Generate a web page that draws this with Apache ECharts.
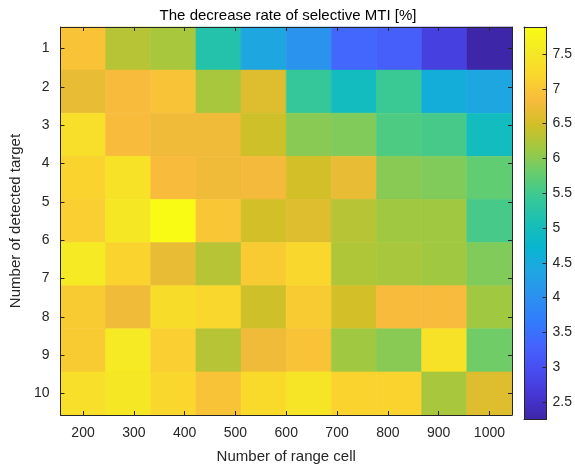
<!DOCTYPE html>
<html>
<head>
<meta charset="utf-8">
<script src="https://cdn.jsdelivr.net/npm/echarts@6/dist/echarts.min.js"></script>
<style>
  html, body { margin: 0; padding: 0; background: #fff; }
  #main { width: 575px; height: 469px; }
</style>
</head>
<body>
<div id="main"></div>
<script>
// image extent (imagesc x / y data limits)
const xRange = [200, 1000]
const yRange = [1, 10]
const xTicks = [200, 300, 400, 500, 600, 700, 800, 900, 1000]
const yTicks = [1, 2, 3, 4, 5, 6, 7, 8, 9, 10]
const cbarTicks = [2.5, 3, 3.5, 4, 4.5, 5, 5.5, 6, 6.5, 7, 7.5]
const cLim = [2.2557, 7.888]

// decrease rate, 9 rows (top to bottom) x 10 columns (left to right)
const row1 = [6.95, 6.30, 6.20, 5.20, 4.40, 4.05, 3.35, 3.25, 2.75, 2.2557]
const row2 = [6.70, 6.85, 6.95, 6.20, 6.60, 5.40, 4.95, 5.45, 4.55, 4.40]
const row3 = [7.35, 6.85, 6.75, 6.75, 6.45, 6.00, 5.95, 5.60, 5.55, 4.95]
const row4 = [7.15, 7.40, 6.85, 6.75, 6.80, 6.50, 6.70, 6.00, 5.95, 5.75]
const row5 = [7.10, 7.50, 7.888, 7.00, 6.50, 6.60, 6.30, 6.15, 6.15, 5.55]
const row6 = [7.55, 7.15, 6.70, 6.30, 7.05, 7.20, 6.25, 6.20, 6.15, 5.95]
const row7 = [7.05, 6.75, 7.30, 7.20, 6.45, 7.05, 6.50, 6.85, 6.85, 6.15]
const row8 = [7.05, 7.55, 7.10, 6.30, 6.75, 6.95, 6.15, 6.00, 7.40, 5.85]
const row9 = [7.35, 7.50, 7.20, 6.95, 7.25, 7.45, 7.15, 7.15, 6.20, 6.60]
const rows = [row1, row2, row3, row4, row5, row6, row7, row8, row9]

// parula colormap
const parula = [
  '#3e26a8', '#4537d5', '#484df0', '#4563fd', '#327cfc', '#2b91ef',
  '#20a5e3', '#08b5d0', '#19bfb6', '#37c897', '#64cd6f', '#9dc943',
  '#d1bf27', '#f8ba3d', '#fad62d', '#f5e924', '#f9fb15'
]

const nCols = rows[0].length
const nRows = rows.length
const dx = (xRange[1] - xRange[0]) / (nCols - 1)
const dy = (yRange[1] - yRange[0]) / (nRows - 1)

const cells = []
rows.forEach((r, i) => {
  r.forEach((v, j) => {
    cells.push([xRange[0] + j * dx, yRange[0] + i * dy, v])
  })
})

const textColor = '#262626'
const lineColor = '#262626'
const fontFamily = 'Liberation Sans, Arial, sans-serif'

// plain box line + inward ticks (MATLAB style), drawn above the image
const boxAxis = (extra, ticks) => Object.assign({
  z: 10,
  axisLine: { show: true, onZero: false, lineStyle: { color: lineColor, width: 1 } },
  splitLine: { show: false },
  axisTick: ticks
    ? { show: true, inside: true, length: 4, customValues: ticks, lineStyle: { color: lineColor } }
    : { show: false },
  axisLabel: { show: false }
}, extra)

const tickLabel = (ticks, margin) => ({
  show: true, customValues: ticks, color: textColor, fontSize: 14, margin, fontFamily,
  formatter: (v) => String(v)
})

const chart = echarts.init(document.getElementById('main'))

chart.setOption({
  animation: false,
  backgroundColor: '#fff',
  title: {
    text: 'The decrease rate of selective MTI [%]',
    left: 283, top: 3, textAlign: 'center',
    textStyle: { fontSize: 15, fontWeight: 'normal', color: '#000', fontFamily }
  },
  grid: [
    { left: 55, top: 27, width: 457, height: 392 },
    { left: 524, top: 27, width: 25, height: 392 }
  ],
  xAxis: [
    boxAxis({
      type: 'value', gridIndex: 0, position: 'bottom',
      min: xRange[0] - dx / 2, max: xRange[1] + dx / 2,
      axisLabel: tickLabel(xTicks, 11),
      name: 'Number of range cell', nameLocation: 'middle', nameGap: 34,
      nameTextStyle: { fontSize: 15, color: textColor, fontFamily }
    }, xTicks),
    boxAxis({
      type: 'value', gridIndex: 0, position: 'top',
      min: xRange[0] - dx / 2, max: xRange[1] + dx / 2
    }, xTicks),
    boxAxis({ type: 'value', gridIndex: 1, min: 0, max: 1, position: 'bottom' }),
    boxAxis({ type: 'value', gridIndex: 1, min: 0, max: 1, position: 'top' })
  ],
  yAxis: [
    boxAxis({
      type: 'value', gridIndex: 0, position: 'left', inverse: true,
      min: yRange[0] - dy / 2, max: yRange[1] + dy / 2,
      axisLabel: tickLabel(yTicks, 11),
      name: 'Number of detected target', nameLocation: 'middle', nameGap: 36, nameRotate: 90,
      nameTextStyle: { fontSize: 15, color: textColor, fontFamily }
    }, yTicks),
    boxAxis({
      type: 'value', gridIndex: 0, position: 'right', inverse: true,
      min: yRange[0] - dy / 2, max: yRange[1] + dy / 2
    }, yTicks),
    boxAxis({
      type: 'value', gridIndex: 1, position: 'right',
      min: cLim[0], max: cLim[1],
      axisLabel: tickLabel(cbarTicks, 6)
    }, cbarTicks),
    boxAxis({
      type: 'value', gridIndex: 1, position: 'left',
      min: cLim[0], max: cLim[1]
    })
  ],
  visualMap: {
    show: false,
    type: 'continuous',
    seriesIndex: 0,
    dimension: 2,
    min: cLim[0], max: cLim[1],
    inRange: { color: parula }
  },
  series: [
    {
      type: 'custom',
      xAxisIndex: 0, yAxisIndex: 0,
      data: cells,
      encode: { x: 0, y: 1 },
      renderItem: (params, api) => {
        const x = api.value(0)
        const y = api.value(1)
        const p0 = api.coord([x - dx / 2, y - dy / 2])
        const p1 = api.coord([x + dx / 2, y + dy / 2])
        const color = api.visual('color')
        return {
          type: 'rect',
          shape: {
            x: Math.min(p0[0], p1[0]), y: Math.min(p0[1], p1[1]),
            width: Math.abs(p1[0] - p0[0]), height: Math.abs(p1[1] - p0[1])
          },
          style: { fill: color, stroke: color, lineWidth: 0.6 }
        }
      },
      z: 1
    },
    {
      // colorbar
      type: 'custom',
      xAxisIndex: 2, yAxisIndex: 2,
      data: [[0, cLim[0], 1, cLim[1]]],
      renderItem: (params, api) => {
        const p0 = api.coord([api.value(0), api.value(3)])
        const p1 = api.coord([api.value(2), api.value(1)])
        const stops = parula.map((c, k) => ({ offset: 1 - k / (parula.length - 1), color: c }))
        return {
          type: 'rect',
          shape: { x: p0[0], y: p0[1], width: p1[0] - p0[0], height: p1[1] - p0[1] },
          style: { fill: new echarts.graphic.LinearGradient(0, 0, 0, 1, stops) }
        }
      },
      z: 1
    }
  ]
})
</script>
</body>
</html>
